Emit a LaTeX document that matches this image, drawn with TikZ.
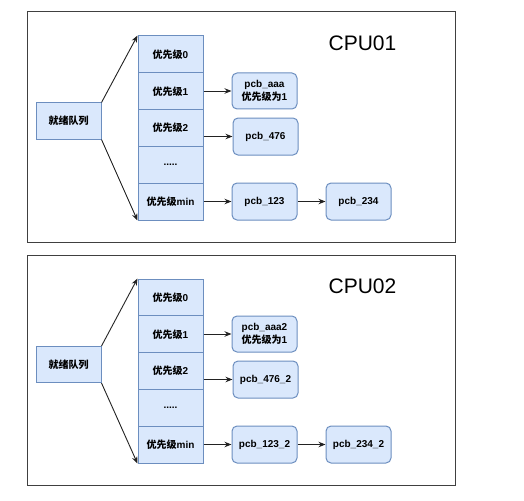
\documentclass[tikz,border=0pt]{standalone}
\usepackage{fontspec}
\setmainfont{Liberation Sans}
\newfontfamily\cjk{Noto Sans CJK SC}
\usetikzlibrary{arrows.meta}
\definecolor{fillb}{HTML}{DAE8FC}
\definecolor{strokeb}{HTML}{6C8EBF}
\definecolor{lineg}{HTML}{222222}
\begin{document}
\begin{tikzpicture}[x=1pt,y=-1pt,
  box/.style={draw=strokeb, fill=fillb, line width=1pt, inner sep=0pt, align=center,
    font=\bfseries\fontsize{10}{13}\selectfont},
  cell/.style={box, minimum width=65pt, minimum height=36.8pt},
  pcbbox/.style={box, rounded corners=5pt, minimum width=65pt, minimum height=37pt},
  frame/.style={draw=black!75, line width=1pt, minimum width=428pt, minimum height=230pt, inner sep=0pt},
  cpulabel/.style={font=\fontsize{21}{24}\selectfont, inner sep=0pt},
  conn/.style={draw=lineg, line width=0.9pt, -{Stealth[length=7pt,width=5.5pt]}}
]
\useasboundingbox (0,0) rectangle (524,500);

% ---------- panel 1 ----------
\node[frame] (f1) at (241,127) {};
\node[cpulabel] (t1) at (362.5,43) {CPU01};
\node[cell, minimum height=36pt] (rq1) at (68.5,121) {\cjk 就绪队列};
\node[cell] (a0) at (170.5,54.4) {{\cjk 优先级}0};
\node[cell] (a1) at (170.5,91.2) {{\cjk 优先级}1};
\node[cell] (a2) at (170.5,128.0) {{\cjk 优先级}2};
\node[cell] (a3) at (170.5,164.8) {.....};
\node[cell] (a4) at (170.5,201.6) {{\cjk 优先级}min};
\node[pcbbox, minimum height=36pt] (p1a) at (264.5,91) {pcb\_aaa\\{\cjk 优先级为}1};
\node[pcbbox] (p1b) at (265.5,136.5) {pcb\_476};
\node[pcbbox] (p1c) at (264.5,201.5) {pcb\_123};
\node[pcbbox] (p1d) at (358.5,201.5) {pcb\_234};
\draw[conn] (rq1.north east) -- (a0.north west);
\draw[conn] (rq1.south east) -- (a4.south west);
\draw[conn] (a1.east |- p1a.west) -- (p1a.west);
\draw[conn] (p1b.west -| a2.east) -- (p1b.west);
\draw[conn] (a4.east |- p1c.west) -- (p1c.west);
\draw[conn] (p1c.east) -- (p1d.west);

% ---------- panel 2 ----------
\node[frame] (f2) at (241,370.5) {};
\node[cpulabel] (t2) at (362.5,286) {CPU02};
\node[cell, minimum height=36pt] (rq2) at (68.5,364.5) {\cjk 就绪队列};
\node[cell] (b0) at (170.5,297.4) {{\cjk 优先级}0};
\node[cell] (b1) at (170.5,334.2) {{\cjk 优先级}1};
\node[cell] (b2) at (170.5,371.0) {{\cjk 优先级}2};
\node[cell] (b3) at (170.5,407.8) {.....};
\node[cell] (b4) at (170.5,444.6) {{\cjk 优先级}min};
\node[pcbbox, minimum height=36pt] (p2a) at (264.5,334) {pcb\_aaa2\\{\cjk 优先级为}1};
\node[pcbbox] (p2b) at (265.5,379.5) {pcb\_476\_2};
\node[pcbbox] (p2c) at (264.5,444.5) {pcb\_123\_2};
\node[pcbbox] (p2d) at (358.5,444.5) {pcb\_234\_2};
\draw[conn] (rq2.north east) -- (b0.north west);
\draw[conn] (rq2.south east) -- (b4.south west);
\draw[conn] (b1.east |- p2a.west) -- (p2a.west);
\draw[conn] (p2b.west -| b2.east) -- (p2b.west);
\draw[conn] (b4.east |- p2c.west) -- (p2c.west);
\draw[conn] (p2c.east) -- (p2d.west);
\end{tikzpicture}
\end{document}
